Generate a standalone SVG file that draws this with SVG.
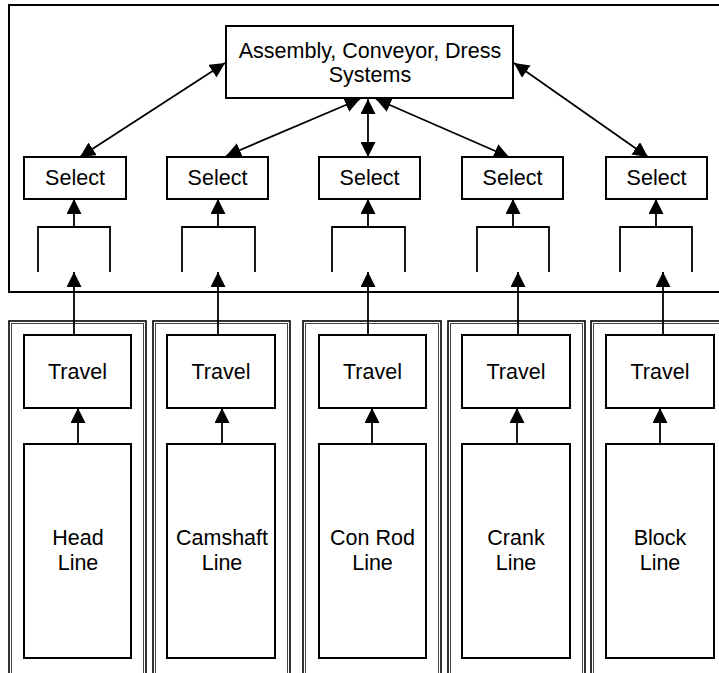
<svg xmlns="http://www.w3.org/2000/svg" width="719" height="673" viewBox="0 0 719 673">
  <style>
    .box { fill: #fff; stroke: #000; stroke-width: 2; }
    .frame { fill: none; stroke: #000; stroke-width: 2; }
    .lane-outer { fill: none; stroke: #000; stroke-width: 1.6; }
    .lane-inner { fill: none; stroke: #444; stroke-width: 1; }
    .wire { fill: none; stroke: #000; stroke-width: 1.8; }
    .label { font-family: "Liberation Sans", Arial, sans-serif; font-size: 21.5px; fill: #000; text-anchor: middle; }
  </style>
  <defs>
    <marker id="head" viewBox="0 0 15 15" refX="15" refY="7.5" markerWidth="15" markerHeight="15" markerUnits="userSpaceOnUse" orient="auto-start-reverse">
      <path d="M0,0 L15,7.5 L0,15 Z" fill="#000"/>
    </marker>
  </defs>

  <rect width="719" height="673" fill="#fff"/>

  <!-- plant-level frame (assembly area) -->
  <g id="assembly-area">
    <rect class="frame" x="9" y="5" width="720" height="287"/>
  </g>

  <!-- machining line lanes -->
  <g id="lane-head">
    <rect class="lane-outer" x="9" y="321" width="137" height="400"/>
    <rect class="lane-inner" x="11.5" y="323.5" width="132" height="400"/>
  </g>
  <g id="lane-camshaft">
    <rect class="lane-outer" x="153" y="321" width="137" height="400"/>
    <rect class="lane-inner" x="155.5" y="323.5" width="132" height="400"/>
  </g>
  <g id="lane-conrod">
    <rect class="lane-outer" x="303" y="321" width="138" height="400"/>
    <rect class="lane-inner" x="305.5" y="323.5" width="133" height="400"/>
  </g>
  <g id="lane-crank">
    <rect class="lane-outer" x="448" y="321" width="137" height="400"/>
    <rect class="lane-inner" x="450.5" y="323.5" width="132" height="400"/>
  </g>
  <g id="lane-block">
    <rect class="lane-outer" x="591" y="321" width="140" height="400"/>
    <rect class="lane-inner" x="593.5" y="323.5" width="135" height="400"/>
  </g>

  <!-- assembly node -->
  <g id="assembly">
    <rect class="box" x="226" y="26" width="287" height="72"/>
    <text class="label" x="370" y="57.5">Assembly, Conveyor, Dress</text>
    <text class="label" x="370" y="81.5">Systems</text>
  </g>

  <!-- select nodes -->
  <g id="select-1">
    <rect class="box" x="24" y="157" width="102" height="42"/>
    <text class="label" x="75" y="185">Select</text>
  </g>
  <g id="select-2">
    <rect class="box" x="167" y="157" width="101" height="42"/>
    <text class="label" x="217.5" y="185">Select</text>
  </g>
  <g id="select-3">
    <rect class="box" x="319" y="157" width="101" height="42"/>
    <text class="label" x="369.5" y="185">Select</text>
  </g>
  <g id="select-4">
    <rect class="box" x="462" y="157" width="101" height="42"/>
    <text class="label" x="512.5" y="185">Select</text>
  </g>
  <g id="select-5">
    <rect class="box" x="606" y="157" width="101" height="42"/>
    <text class="label" x="656.5" y="185">Select</text>
  </g>

  <!-- travel nodes -->
  <g id="travel-1">
    <rect class="box" x="24" y="335" width="107" height="73"/>
    <text class="label" x="77.5" y="378.5">Travel</text>
  </g>
  <g id="travel-2">
    <rect class="box" x="167" y="335" width="108" height="73"/>
    <text class="label" x="221" y="378.5">Travel</text>
  </g>
  <g id="travel-3">
    <rect class="box" x="319" y="335" width="107" height="73"/>
    <text class="label" x="372.5" y="378.5">Travel</text>
  </g>
  <g id="travel-4">
    <rect class="box" x="462" y="335" width="108" height="73"/>
    <text class="label" x="516" y="378.5">Travel</text>
  </g>
  <g id="travel-5">
    <rect class="box" x="606" y="335" width="108" height="73"/>
    <text class="label" x="660" y="378.5">Travel</text>
  </g>

  <!-- production line nodes -->
  <g id="head-line">
    <rect class="box" x="24" y="444" width="107" height="214"/>
    <text class="label" x="78" y="545">Head</text>
    <text class="label" x="78" y="569.5">Line</text>
  </g>
  <g id="camshaft-line">
    <rect class="box" x="167" y="444" width="108" height="214"/>
    <text class="label" x="222" y="545">Camshaft</text>
    <text class="label" x="222" y="569.5">Line</text>
  </g>
  <g id="conrod-line">
    <rect class="box" x="319" y="444" width="107" height="214"/>
    <text class="label" x="372.5" y="545">Con Rod</text>
    <text class="label" x="372.5" y="569.5">Line</text>
  </g>
  <g id="crank-line">
    <rect class="box" x="462" y="444" width="108" height="214"/>
    <text class="label" x="516" y="545">Crank</text>
    <text class="label" x="516" y="569.5">Line</text>
  </g>
  <g id="block-line">
    <rect class="box" x="606" y="444" width="108" height="214"/>
    <text class="label" x="660" y="545">Block</text>
    <text class="label" x="660" y="569.5">Line</text>
  </g>

  <!-- connectors -->
  <g id="connectors">
    <!-- select <-> assembly -->
    <line class="wire" x1="80" y1="157" x2="225" y2="63" marker-start="url(#head)" marker-end="url(#head)"/>
    <line class="wire" x1="226" y1="156" x2="360" y2="99" marker-start="url(#head)" marker-end="url(#head)"/>
    <line class="wire" x1="368" y1="157" x2="368" y2="99" marker-start="url(#head)" marker-end="url(#head)"/>
    <line class="wire" x1="509" y1="157" x2="376" y2="99" marker-start="url(#head)" marker-end="url(#head)"/>
    <line class="wire" x1="648" y1="157" x2="514" y2="63" marker-start="url(#head)" marker-end="url(#head)"/>

    <!-- merge brackets feeding each select -->
    <path class="wire" d="M38,272 V227 H110 V272"/>
    <path class="wire" d="M182,272 V227 H255 V272"/>
    <path class="wire" d="M332,272 V227 H405 V272"/>
    <path class="wire" d="M477,272 V227 H549 V272"/>
    <path class="wire" d="M620,272 V227 H692 V272"/>

    <line class="wire" x1="74" y1="227" x2="74" y2="199" marker-end="url(#head)"/>
    <line class="wire" x1="218" y1="227" x2="218" y2="199" marker-end="url(#head)"/>
    <line class="wire" x1="368" y1="227" x2="368" y2="199" marker-end="url(#head)"/>
    <line class="wire" x1="513" y1="227" x2="513" y2="199" marker-end="url(#head)"/>
    <line class="wire" x1="656" y1="227" x2="656" y2="199" marker-end="url(#head)"/>

    <!-- travel -> bracket -->
    <line class="wire" x1="74" y1="335" x2="74" y2="272" marker-end="url(#head)"/>
    <line class="wire" x1="218" y1="335" x2="218" y2="272" marker-end="url(#head)"/>
    <line class="wire" x1="368" y1="335" x2="368" y2="272" marker-end="url(#head)"/>
    <line class="wire" x1="518" y1="335" x2="518" y2="272" marker-end="url(#head)"/>
    <line class="wire" x1="663" y1="335" x2="663" y2="272" marker-end="url(#head)"/>

    <!-- line -> travel -->
    <line class="wire" x1="78" y1="444" x2="78" y2="408" marker-end="url(#head)"/>
    <line class="wire" x1="222" y1="444" x2="222" y2="408" marker-end="url(#head)"/>
    <line class="wire" x1="372" y1="444" x2="372" y2="408" marker-end="url(#head)"/>
    <line class="wire" x1="517" y1="444" x2="517" y2="408" marker-end="url(#head)"/>
    <line class="wire" x1="660" y1="444" x2="660" y2="408" marker-end="url(#head)"/>
  </g>
</svg>
